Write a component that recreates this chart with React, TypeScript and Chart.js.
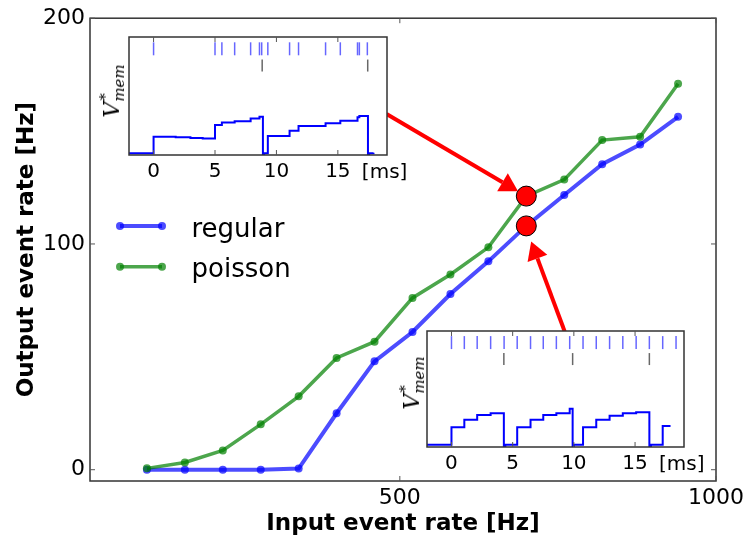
import React, { useEffect, useRef } from "react";
import { Chart, registerables } from "chart.js";

Chart.register(...registerables);

// ---- transfer curve: output event rate vs input event rate (Hz) ----
const inputRates = [100, 160, 220, 280, 340, 400, 460, 520, 580, 640, 700, 760, 820, 880, 940];
const regularRates = [0, 0, 0, 0, 0.5, 25, 48, 61, 77.8, 92.3, 108, 121.7, 135.3, 144, 156.3];
const poissonRates = [0.6, 3.2, 8.5, 20.1, 32.5, 49.5, 56.7, 76.1, 86.5, 98.5, 121.2, 128.5, 146, 147.5, 171];
const seriesLabels = ["regular", "poisson"];
const xTickValues = [500, 1000];
const yTickValues = [0, 100, 200];
const highlightIndex = 10; // the 700 Hz sample shown in the insets

// callout arrows in data units: [fromX, fromY, toX, toY]
const poissonArrow = [479, 157.6, 686.9, 123.3];
const regularArrow = [760.7, 61.2, 707.7, 101.1];

// ---- insets: normalised membrane trace with input / output spike rasters (ms) ----
const insetTickValues = [0, 5, 10, 15];

const poissonInSpikes = [0, 5.0, 5.56, 6.6, 7.9, 8.62, 8.8, 9.3, 11.07, 11.8, 14.0, 15.2, 16.6, 16.75, 17.4];
const poissonOutSpikes = [8.84, 17.43];
const poissonTraceT = [-2, 0, 1.8, 3.0, 4.0, 5.0, 5.56, 6.6, 7.9, 8.62, 8.9, 9.0, 9.3, 11.07, 11.8, 14.0, 15.2, 16.6, 16.75, 17.45, 17.55, 17.9];
const poissonTraceV = [0.015, 0.155, 0.15, 0.145, 0.14, 0.255, 0.275, 0.285, 0.31, 0.325, 0.0, 0.015, 0.16, 0.205, 0.245, 0.27, 0.29, 0.32, 0.33, 0.0, 0.015, 0.02];

const regularInSpikes = [0, 1.05, 2.1, 3.2, 4.3, 5.37, 6.46, 7.5, 8.57, 9.66, 10.75, 11.83, 12.92, 14.0, 15.09, 16.17, 17.26, 18.35];
const regularOutSpikes = [4.28, 9.9, 16.17];
const regularTraceT = [-2, 0, 1.05, 2.1, 3.2, 4.28, 4.4, 5.37, 6.46, 7.5, 8.57, 9.66, 9.9, 10.0, 10.75, 11.83, 12.92, 14.0, 15.09, 16.17, 16.3, 17.26, 17.9];
const regularTraceV = [0.02, 0.17, 0.235, 0.275, 0.29, 0.0, 0.02, 0.17, 0.235, 0.275, 0.29, 0.33, 0.0, 0.02, 0.17, 0.235, 0.27, 0.29, 0.3, 0.0, 0.02, 0.18, 0.18];

const FONT = "'DejaVu Sans', sans-serif";
const BLUE = "rgba(0, 0, 255, 0.7)";
const GREEN = "rgba(0, 128, 0, 0.7)";

function drawArrow(ctx: CanvasRenderingContext2D, x0: number, y0: number, x1: number, y1: number) {
  const ang = Math.atan2(y1 - y0, x1 - x0);
  const headLen = 18;
  const headHalf = 10.5;
  const bx = x1 - headLen * Math.cos(ang);
  const by = y1 - headLen * Math.sin(ang);
  ctx.strokeStyle = "#ff0000";
  ctx.fillStyle = "#ff0000";
  ctx.lineWidth = 4;
  ctx.beginPath();
  ctx.moveTo(x0, y0);
  ctx.lineTo(bx, by);
  ctx.stroke();
  ctx.beginPath();
  ctx.moveTo(x1, y1);
  ctx.lineTo(bx + headHalf * Math.sin(ang), by - headHalf * Math.cos(ang));
  ctx.lineTo(bx - headHalf * Math.sin(ang), by + headHalf * Math.cos(ang));
  ctx.closePath();
  ctx.fill();
}

const mainDecor = {
  id: "mainDecor",
  afterDatasetsDraw(chart: any) {
    const { ctx, scales } = chart;
    const sx = scales.x;
    const sy = scales.y;
    ctx.save();
    for (const a of [poissonArrow, regularArrow]) {
      drawArrow(ctx, sx.getPixelForValue(a[0]), sy.getPixelForValue(a[1]), sx.getPixelForValue(a[2]), sy.getPixelForValue(a[3]));
    }
    ctx.restore();
  },
  afterDraw(chart: any) {
    const { ctx, chartArea: a, scales } = chart;
    ctx.save();
    // frame
    ctx.strokeStyle = "#333";
    ctx.lineWidth = 1.5;
    ctx.strokeRect(a.left, a.top, a.right - a.left, a.bottom - a.top);
    // inward tick marks on all four sides
    ctx.lineWidth = 1;
    ctx.strokeStyle = "#555";
    ctx.beginPath();
    for (const t of scales.y.ticks) {
      const py = scales.y.getPixelForValue(t.value);
      ctx.moveTo(a.left, py);
      ctx.lineTo(a.left + 5, py);
      ctx.moveTo(a.right, py);
      ctx.lineTo(a.right - 5, py);
    }
    for (const t of scales.x.ticks) {
      const px = scales.x.getPixelForValue(t.value);
      ctx.moveTo(px, a.bottom);
      ctx.lineTo(px, a.bottom - 5);
      ctx.moveTo(px, a.top);
      ctx.lineTo(px, a.top + 5);
    }
    ctx.stroke();

    // legend
    const rows = [
      { label: seriesLabels[0], color: BLUE, width: 4, y: 226 },
      { label: seriesLabels[1], color: GREEN, width: 3.5, y: 266.7 },
    ];
    for (const r of rows) {
      ctx.strokeStyle = r.color;
      ctx.fillStyle = r.color;
      ctx.lineWidth = r.width;
      ctx.beginPath();
      ctx.moveTo(120, r.y);
      ctx.lineTo(162, r.y);
      ctx.stroke();
      for (const px of [120, 162]) {
        ctx.beginPath();
        ctx.arc(px, r.y, 4, 0, Math.PI * 2);
        ctx.fill();
      }
      ctx.fillStyle = "#000";
      ctx.font = `26px ${FONT}`;
      ctx.textAlign = "left";
      ctx.textBaseline = "alphabetic";
      ctx.fillText(r.label, 191.5, r.y + 10.5);
    }
    ctx.restore();
  },
};

function MainChart() {
  const ref = useRef<HTMLCanvasElement | null>(null);
  useEffect(() => {
    if (!ref.current) return;
    const chart = new Chart(ref.current, {
      type: "line",
      data: {
        datasets: [
          {
            label: "highlight",
            data: [
              { x: inputRates[highlightIndex], y: poissonRates[highlightIndex] },
              { x: inputRates[highlightIndex], y: regularRates[highlightIndex] },
            ],
            showLine: false,
            pointRadius: 10,
            pointBackgroundColor: "#ff0000",
            pointBorderColor: "#000",
            pointBorderWidth: 1,
            order: 0,
          },
          {
            label: seriesLabels[1],
            data: inputRates.map((x, i) => ({ x, y: poissonRates[i] })),
            borderColor: GREEN,
            borderWidth: 3.5,
            pointRadius: 4,
            pointBackgroundColor: GREEN,
            pointBorderWidth: 0,
            order: 1,
          },
          {
            label: seriesLabels[0],
            data: inputRates.map((x, i) => ({ x, y: regularRates[i] })),
            borderColor: BLUE,
            borderWidth: 4,
            pointRadius: 4,
            pointBackgroundColor: BLUE,
            pointBorderWidth: 0,
            order: 2,
          },
        ],
      },
      options: {
        animation: false,
        responsive: false,
        events: [],
        layout: { padding: { left: 0, right: 33, top: 15, bottom: 0 } },
        plugins: { legend: { display: false }, tooltip: { enabled: false } },
        scales: {
          x: {
            type: "linear",
            min: 10,
            max: 1000,
            afterBuildTicks: (s: any) => {
              s.ticks = xTickValues.map((v) => ({ value: v }));
            },
            afterFit: (s: any) => {
              s.height = 62;
            },
            grid: { display: false, drawTicks: false },
            border: { display: false },
            ticks: {
              font: { family: FONT, size: 22 },
              color: "#000",
              padding: 4,
              maxRotation: 0,
              autoSkip: false,
              callback: (v: any) => String(v),
            },
            title: {
              display: true,
              text: "Input event rate [Hz]",
              font: { family: FONT, size: 23, weight: "bold" },
              color: "#000",
              padding: { top: 0, bottom: 5 },
            },
          },
          y: {
            type: "linear",
            min: -5,
            max: 200,
            afterBuildTicks: (s: any) => {
              s.ticks = yTickValues.map((v) => ({ value: v }));
            },
            afterFit: (s: any) => {
              s.width = 90;
            },
            grid: { display: false, drawTicks: false },
            border: { display: false },
            ticks: { font: { family: FONT, size: 22 }, color: "#000", padding: 5, callback: (v: any) => String(v) },
            title: {
              display: true,
              text: "Output event rate [Hz]",
              font: { family: FONT, size: 23, weight: "bold" },
              color: "#000",
              padding: { top: 13, bottom: 0 },
            },
          },
        },
      },
      plugins: [mainDecor],
    } as any);
    return () => chart.destroy();
  }, []);
  return <canvas ref={ref} width={749} height={543} style={{ position: "absolute", left: 0, top: 0, width: 749, height: 543 }} />;
}

const insetDecor = {
  id: "insetDecor",
  beforeDraw(chart: any) {
    const { ctx, chartArea: a } = chart;
    ctx.save();
    ctx.fillStyle = "#fff";
    ctx.fillRect(a.left, a.top, a.right - a.left, a.bottom - a.top);
    ctx.restore();
  },
  afterDraw(chart: any) {
    const { ctx, chartArea: a, scales } = chart;
    ctx.save();
    ctx.strokeStyle = "#333";
    ctx.lineWidth = 1.5;
    ctx.strokeRect(a.left, a.top, a.right - a.left, a.bottom - a.top);
    ctx.lineWidth = 1;
    ctx.strokeStyle = "#555";
    ctx.beginPath();
    for (const t of scales.x.ticks) {
      const px = scales.x.getPixelForValue(t.value);
      ctx.moveTo(px, a.top);
      ctx.lineTo(px, a.top + 5);
      ctx.moveTo(px, a.bottom);
      ctx.lineTo(px, a.bottom - 5);
    }
    ctx.stroke();
    // time unit next to the last tick label
    const last = insetTickValues[insetTickValues.length - 1];
    ctx.fillStyle = "#000";
    ctx.font = `20px ${FONT}`;
    ctx.textAlign = "left";
    ctx.textBaseline = "alphabetic";
    ctx.fillText("[ms]", scales.x.getPixelForValue(last) + 24, a.bottom + 23);
    ctx.restore();
  },
};

type InsetProps = {
  left: number;
  top: number;
  width: number;
  height: number;
  pad: { left: number; top: number; right: number };
  axisHeight: number;
  traceT: number[];
  traceV: number[];
  inSpikes: number[];
  outSpikes: number[];
};

function Inset(p: InsetProps) {
  const ref = useRef<HTMLCanvasElement | null>(null);
  useEffect(() => {
    if (!ref.current) return;
    const chart = new Chart(ref.current, {
      type: "line",
      data: {
        datasets: [
          {
            data: p.traceT.map((t, i) => ({ x: t, y: p.traceV[i] })),
            stepped: true,
            borderColor: "#0000ff",
            borderWidth: 2,
            pointRadius: 0,
            order: 2,
          },
          {
            data: p.inSpikes.map((t) => ({ x: t, y: 0.9 })),
            showLine: false,
            pointStyle: "line",
            pointRotation: 90,
            pointRadius: 6.5,
            pointBorderColor: "rgba(0, 0, 255, 0.6)",
            pointBorderWidth: 1.5,
            order: 1,
          },
          {
            data: p.outSpikes.map((t) => ({ x: t, y: 0.758 })),
            showLine: false,
            pointStyle: "line",
            pointRotation: 90,
            pointRadius: 6,
            pointBorderColor: "rgba(40, 40, 40, 0.7)",
            pointBorderWidth: 1.5,
            order: 0,
          },
        ],
      },
      options: {
        animation: false,
        responsive: false,
        events: [],
        layout: { padding: { left: p.pad.left, top: p.pad.top, right: p.pad.right, bottom: 0 } },
        plugins: { legend: { display: false }, tooltip: { enabled: false } },
        scales: {
          x: {
            type: "linear",
            min: -2,
            max: 19,
            afterBuildTicks: (s: any) => {
              s.ticks = insetTickValues.map((v) => ({ value: v }));
            },
            afterFit: (s: any) => {
              s.height = p.axisHeight;
            },
            grid: { display: false, drawTicks: false },
            border: { display: false },
            ticks: { font: { family: FONT, size: 20 }, color: "#000", padding: 5, maxRotation: 0, autoSkip: false },
          },
          y: { min: 0, max: 1, display: false },
        },
      },
      plugins: [insetDecor],
    } as any);
    return () => chart.destroy();
  }, []);
  return (
    <canvas
      ref={ref}
      width={p.width}
      height={p.height}
      style={{ position: "absolute", left: p.left, top: p.top, width: p.width, height: p.height }}
    />
  );
}

function VmemLabel({ cx, cy }: { cx: number; cy: number }) {
  return (
    <div
      style={{
        position: "absolute",
        left: cx,
        top: cy,
        transform: "translate(-50%, -50%) rotate(-90deg)",
        fontFamily: "'DejaVu Serif', serif",
        fontStyle: "italic",
        fontSize: 22,
        lineHeight: 1,
        whiteSpace: "nowrap",
        color: "#000",
      }}
    >
      V
      <span style={{ position: "relative", display: "inline-block", fontSize: 15 }}>
        <span style={{ position: "absolute", left: 1, top: -9 }}>*</span>
        <span style={{ position: "relative", top: 5 }}>mem</span>
      </span>
    </div>
  );
}

export default function App() {
  return (
    <div style={{ position: "fixed", left: 0, top: 0, width: 749, height: 543, background: "#fff" }}>
      <MainChart />
      <Inset
        left={95}
        top={25}
        width={335}
        height={165}
        pad={{ left: 34, top: 12, right: 43 }}
        axisHeight={35}
        traceT={poissonTraceT}
        traceV={poissonTraceV}
        inSpikes={poissonInSpikes}
        outSpikes={poissonOutSpikes}
      />
      <Inset
        left={393}
        top={319}
        width={335}
        height={165}
        pad={{ left: 34, top: 12, right: 44 }}
        axisHeight={37}
        traceT={regularTraceT}
        traceV={regularTraceV}
        inSpikes={regularInSpikes}
        outSpikes={regularOutSpikes}
      />
      <VmemLabel cx={112} cy={91} />
      <VmemLabel cx={412} cy={383} />
    </div>
  );
}
